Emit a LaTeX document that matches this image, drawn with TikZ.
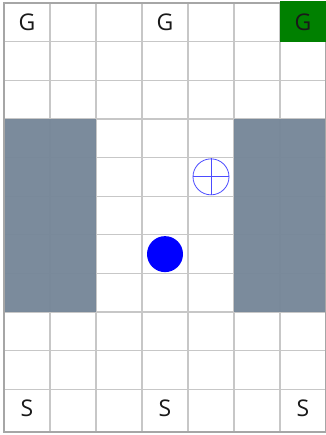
\documentclass[tikz,border=0pt]{standalone}
\usepackage{fontspec}
\setmainfont{Open Sans}
\begin{document}
\begin{tikzpicture}[x=1pt,y=1pt,
  gridline/.style={draw=black!22,line width=1.3pt},
  frame/.style={draw=black!35,line width=2.6pt},
  obstacle/.style={fill=lightslategray,fill opacity=0.97},
  lbl/.style={font=\fontsize{23}{25}\selectfont,inner sep=0pt,text=black!90},
  agent/.style={circle,fill=blue,minimum size=36pt,inner sep=0pt},
  target/.style={circle,draw=blue!70,line width=0.8pt,minimum size=36pt,inner sep=0pt},
]
\definecolor{lightslategray}{HTML}{778899}
\definecolor{goalgreen}{HTML}{008000}
\useasboundingbox (0,0) rectangle (325,435);
\fill[white] (0,0) rectangle (325,435);
\def\cw{46}
\def\ch{38.636}
% grid lines
\foreach \i in {1,...,6} \draw[gridline] ({4+\i*\cw},3) -- ({4+\i*\cw},432);
\foreach \j in {1,...,10} \draw[gridline] (4,{432-\j*\ch}) -- (326,{432-\j*\ch});
% obstacles
\fill[obstacle] (4,{432-8*\ch}) rectangle ({4+2*\cw},{432-3*\ch});
\fill[obstacle] ({4+5*\cw},{432-8*\ch}) rectangle (326,{432-3*\ch});
% frame
\draw[frame] (4,3) rectangle (326,432);
% goal cell
\fill[goalgreen] ({4+6*\cw},{432-\ch}) rectangle (326,433.5);
% labels
\node[lbl] (g1) at ({4+0.5*\cw},{432-0.5*\ch}) {G};
\node[lbl] (g2) at ({4+3.5*\cw},{432-0.5*\ch}) {G};
\node[lbl] (g3) at ({4+6.5*\cw},{432-0.5*\ch}) {G};
\node[lbl] (s1) at ({4+0.5*\cw},{432-10.5*\ch}) {S};
\node[lbl] (s2) at ({4+3.5*\cw},{432-10.5*\ch}) {S};
\node[lbl] (s3) at ({4+6.5*\cw},{432-10.5*\ch}) {S};
% target marker
\node[target] (tg) at ({4+4.5*\cw},{432-4.5*\ch}) {};
\draw[blue!70,line width=0.8pt] (tg.north) -- (tg.south);
\draw[blue!70,line width=0.8pt] (tg.west) -- (tg.east);
% agent
\node[agent] (ag) at ({4+3.5*\cw},{432-6.5*\ch}) {};
\end{tikzpicture}
\end{document}
